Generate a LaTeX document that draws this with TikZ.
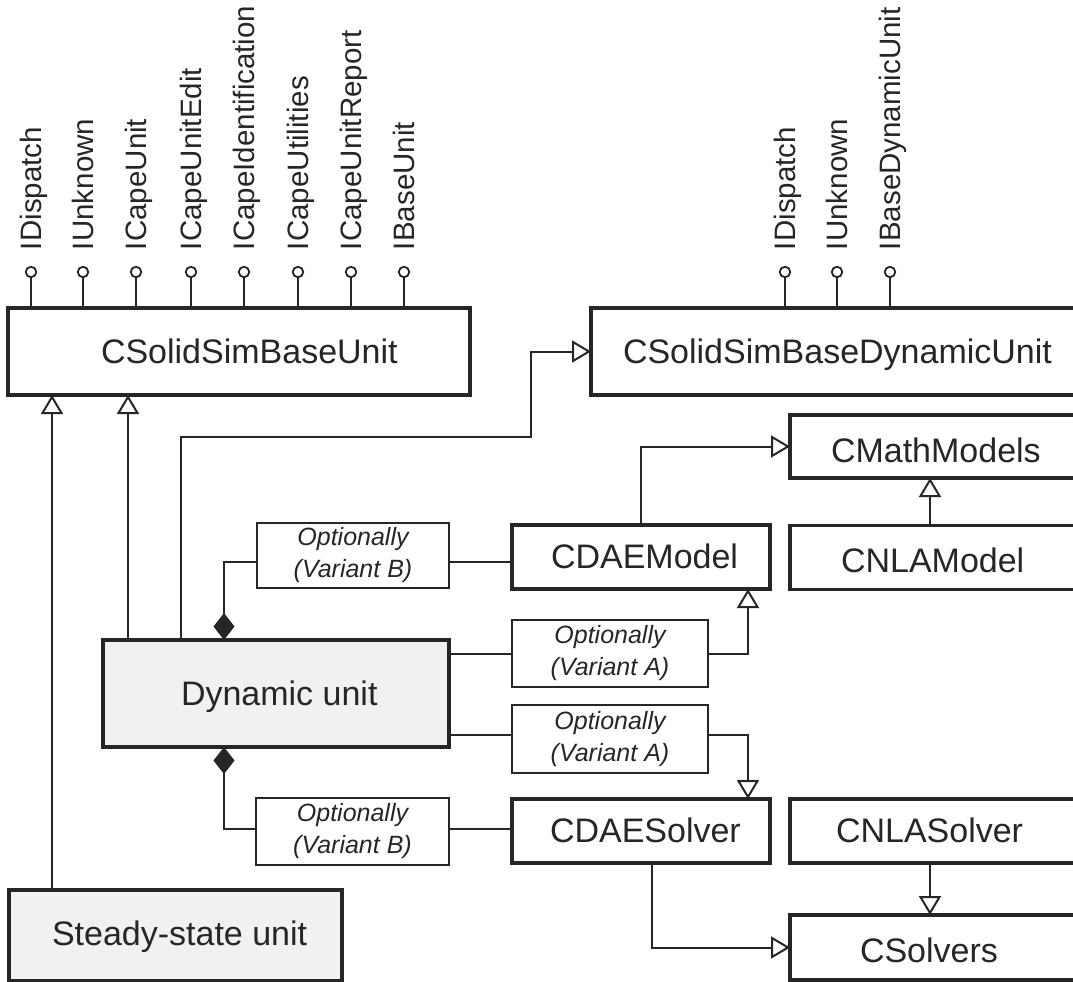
\documentclass[tikz,border=0pt]{standalone}
\usepackage{fontspec}
\setmainfont{Liberation Sans}
\usetikzlibrary{arrows.meta}
\definecolor{ink}{HTML}{262626}
\definecolor{unitfill}{HTML}{F1F1F1}
\begin{document}
\begin{tikzpicture}[x=1pt,y=-1pt,
  every node/.style={inner sep=0pt,outer sep=0pt},
  cls/.style={draw=ink,line width=3.2pt,rectangle},
  opt/.style={draw=ink,line width=1.8pt,rectangle,align=center,text=ink,
    font=\fontsize{25}{32}\selectfont\itshape},
  ctext/.style={anchor=base west,text=ink,font=\fontsize{34}{40}\selectfont},
  ilbl/.style={rotate=90,anchor=base west,text=ink,font=\fontsize{29.5}{34}\selectfont},
  iface/.style={draw=ink,circle,line width=1.8pt,minimum size=10.5pt,fill=white},
  conn/.style={draw=ink,line width=2pt},
  inh/.style={conn,-{Triangle[open,length=19pt,width=22pt]}},
  comp/.style={conn,{Diamond[length=27pt,width=21pt]}-}]
\useasboundingbox (0,0) rectangle (1073,982);
\clip (0,0) rectangle (1073,982);
\fill[white] (0,0) rectangle (1073,982);

% class boxes
\node[cls,minimum width=462pt,minimum height=87pt] (base) at (239,351.5) {};
\node[ctext] (baseT) at (101,363) {CSolidSimBaseUnit};
\node[cls,minimum width=509pt,minimum height=87pt] (dynbase) at (845.5,351.5) {};
\node[ctext] (dynbaseT) at (623,363) {CSolidSimBaseDynamicUnit};
\node[cls,minimum width=310pt,minimum height=63pt] (cmath) at (945,446.5) {};
\node[ctext] (cmathT) at (831,462) {CMathModels};
\node[cls,minimum width=258pt,minimum height=64pt] (cdaem) at (641,557) {};
\node[ctext] (cdaemT) at (551,568) {CDAEModel};
\node[cls,minimum width=310pt,minimum height=64pt] (cnlam) at (945,557.5) {};
\node[ctext] (cnlamT) at (841,572) {CNLAModel};
\node[cls,fill=unitfill,minimum width=346pt,minimum height=107pt] (dyn) at (276,693.5) {};
\node[ctext] (dynT) at (181,705) {Dynamic unit};
\node[cls,minimum width=258pt,minimum height=64pt] (cdaes) at (641,831) {};
\node[ctext] (cdaesT) at (550,842) {CDAESolver};
\node[cls,minimum width=310pt,minimum height=64pt] (cnlas) at (945,831) {};
\node[ctext] (cnlasT) at (836,842) {CNLASolver};
\node[cls,minimum width=310pt,minimum height=65pt] (csolv) at (945,947.5) {};
\node[ctext] (csolvT) at (860,962) {CSolvers};
\node[cls,fill=unitfill,minimum width=333pt,minimum height=91pt] (ss) at (175.5,935.5) {};
\node[ctext] (ssT) at (52,945) {Steady-state unit};

% optional boxes
\node[opt,minimum width=192pt,minimum height=65pt] (varB1) at (353,555.5) {Optionally\\(Variant B)};
\node[opt,minimum width=196pt,minimum height=67pt] (varA1) at (610,653.5) {Optionally\\(Variant A)};
\node[opt,minimum width=196pt,minimum height=68pt] (varA2) at (610,739) {Optionally\\(Variant A)};
\node[opt,minimum width=193pt,minimum height=67pt] (varB2) at (352.5,831.5) {Optionally\\(Variant B)};

% interfaces of CSolidSimBaseUnit
\foreach \x/\n/\t in {31/a1/IDispatch,83/a2/IUnknown,136/a3/ICapeUnit,191/a4/ICapeUnitEdit,
  244/a5/ICapeIdentification,298/a6/ICapeUtilities,351/a7/ICapeUnitReport,404/a8/IBaseUnit}{
  \node[iface] (\n) at (\x,272) {};
  \draw[conn,line width=1.8pt] (\n.south) -- (\n.south |- base.north);
  \node[ilbl] (\n L) at (\x+10,250) {\t};
}
% interfaces of CSolidSimBaseDynamicUnit
\foreach \x/\n/\t in {785/b1/IDispatch,837/b2/IUnknown,890/b3/IBaseDynamicUnit}{
  \node[iface] (\n) at (\x,272) {};
  \draw[conn,line width=1.8pt] (\n.south) -- (\n.south |- dynbase.north);
  \node[ilbl] (\n L) at (\x+10,250) {\t};
}

% connectors
\coordinate (j1) at (531,437);
\draw[inh] ([xshift=43pt]ss.north west) -- ([xshift=43pt]ss.north west |- base.south);
\draw[inh] ([xshift=25pt]dyn.north west) -- ([xshift=25pt]dyn.north west |- base.south);
\draw[inh] ([xshift=78pt]dyn.north west) |- (j1) |- (dynbase.west);
\draw[comp] ([xshift=121pt]dyn.north west) |- ([yshift=-6.5pt]varB1.west);
\draw[conn] ([yshift=-6.5pt]varB1.east) -- ([yshift=-6.5pt]varB1.east -| cdaem.west);
\draw[inh] ([xshift=129pt]cdaem.north west) |- (cmath.west);
\draw[inh] ([xshift=140pt]cnlam.north west) -- ([xshift=140pt]cnlam.north west |- cmath.south);
\draw[conn] (dyn.east |- varA1.west) -- (varA1.west);
\draw[inh] (varA1.east) -| ([xshift=236pt]cdaem.south west);
\draw[conn] ([yshift=4pt]dyn.east |- varA2.west) -- ([yshift=4pt]varA2.west);
\draw[inh] ([yshift=4pt]varA2.east) -| ([xshift=236pt]cdaes.north west);
\draw[comp] ([xshift=121pt]dyn.south west) |- ([yshift=2.5pt]varB2.west);
\draw[conn] ([yshift=2.5pt]varB2.east) -- ([yshift=2.5pt]varB2.east -| cdaes.west);
\draw[inh] ([xshift=140pt]cdaes.south west) |- (csolv.west);
\draw[inh] ([xshift=140pt]cnlas.south west) -- ([xshift=140pt]cnlas.south west |- csolv.north);
\end{tikzpicture}
\end{document}
